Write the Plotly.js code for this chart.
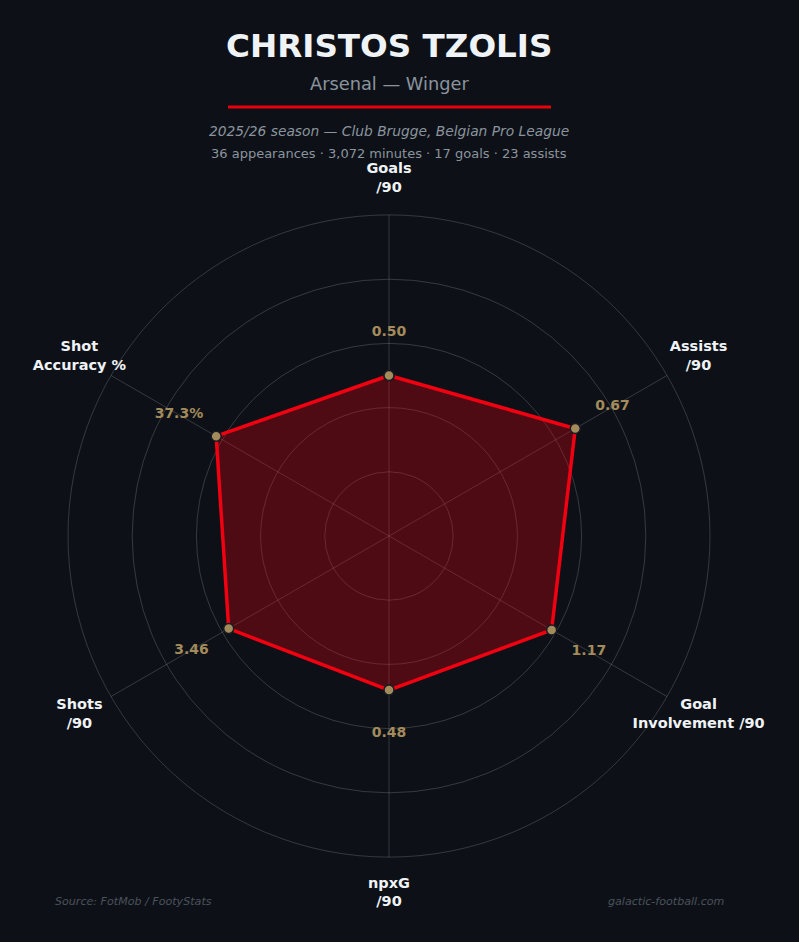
<!DOCTYPE html>
<html><head><meta charset="utf-8">
<script src="https://cdn.plot.ly/plotly-3.0.1.min.js"></script>
<style>html,body{margin:0;padding:0;background:#0d1117;}#chart{width:799px;height:942px;}</style>
</head><body><div id="chart"></div>
<script>
const categories = ["Goals<br>/90", "Assists<br>/90", "Goal<br>Involvement /90", "npxG<br>/90", "Shots<br>/90", "Shot<br>Accuracy %"];
const rawValues = [0.50, 0.67, 1.17, 0.48, 3.46, 37.3];
const valueLabels = ["0.50", "0.67", "1.17", "0.48", "3.46", "37.3%"];
const scaleMax = [1, 1, 2, 1, 6, 60];

const scaled = rawValues.map((v, i) => v / scaleMax[i] * 100);
const closedTheta = categories.concat([categories[0]]);
const closedR = scaled.concat([scaled[0]]);
const labelR = scaled.map(v => v + 13.4);
const catLabelR = categories.map(() => 111.4);

const BG = "#0d1117";
const GRID = "rgba(255,255,255,0.17)";
const dom = {x: [68/799, 710/799], y: [1 - 857/942, 1 - 215/942]};
const domOuter = {x: [20/799, 758/799], y: [1 - 905/942, 1 - 167/942]};

const traces = [
  {type: "scatterpolar", subplot: "polar", r: closedR, theta: closedTheta, mode: "lines",
   fill: "toself", fillcolor: "rgba(232,0,11,0.30)", line: {width: 0, color: "rgba(0,0,0,0)"},
   hoverinfo: "skip", showlegend: false},
  {type: "scatterpolar", subplot: "polar2", r: closedR, theta: closedTheta, mode: "lines+markers",
   line: {color: "#f00010", width: 3.5},
   marker: {size: 10, color: "#a38b5b", line: {color: "#161b22", width: 1.5}},
   showlegend: false, cliponaxis: false},
  {type: "scatterpolar", subplot: "polar2", r: labelR, theta: categories, mode: "text",
   text: valueLabels, textfont: {family: "DejaVu Sans", size: 14, color: "#a38b5b", weight: "bold"},
   textposition: "middle center", showlegend: false, cliponaxis: false},
  {type: "scatterpolar", subplot: "polar3", r: catLabelR, theta: categories, mode: "text",
   text: categories, textfont: {family: "DejaVu Sans", size: 14.5, color: "#f0f3f6", weight: "bold"},
   textposition: "middle center", showlegend: false, cliponaxis: false}
];

const angBase = {type: "category", categoryarray: categories, direction: "clockwise", rotation: 90};

const layout = {
  width: 799, height: 942,
  paper_bgcolor: BG, plot_bgcolor: BG,
  margin: {l: 0, r: 0, t: 0, b: 0},
  showlegend: false,
  font: {family: "DejaVu Sans", color: "#f0f3f6"},
  polar: {
    domain: dom, bgcolor: BG,
    radialaxis: {range: [0, 100], tickvals: [20, 40, 60, 80, 100], showticklabels: false, ticks: "",
      showline: false, gridcolor: GRID, gridwidth: 1, layer: "above traces"},
    angularaxis: Object.assign({}, angBase, {showgrid: true, gridcolor: GRID, gridwidth: 1,
      linecolor: GRID, linewidth: 1, ticks: "", showticklabels: false, layer: "above traces"})
  },
  polar2: {
    domain: dom, bgcolor: "rgba(0,0,0,0)",
    radialaxis: {range: [0, 100], visible: false},
    angularaxis: Object.assign({}, angBase, {visible: false, showgrid: false, showline: false})
  },
  polar3: {
    domain: domOuter, bgcolor: "rgba(0,0,0,0)",
    radialaxis: {range: [0, 115], visible: false},
    angularaxis: Object.assign({}, angBase, {visible: false, showgrid: false, showline: false})
  },
  annotations: [
    {text: "<b>CHRISTOS TZOLIS</b>", x: 0.487, y: 1 - 46/942, xref: "paper", yref: "paper", showarrow: false,
     font: {family: "DejaVu Sans", size: 32.6, color: "#f0f3f6"}, xanchor: "center", yanchor: "middle"},
    {text: "Arsenal — Winger", x: 0.487, y: 1 - 84/942, xref: "paper", yref: "paper", showarrow: false,
     font: {family: "DejaVu Sans", size: 17.8, color: "#8b949e"}, xanchor: "center", yanchor: "middle"},
    {text: "<i>2025/26 season — Club Brugge, Belgian Pro League</i>", x: 0.487, y: 1 - 131/942, xref: "paper", yref: "paper", showarrow: false,
     font: {family: "DejaVu Sans", size: 13.8, color: "#8b949e"}, xanchor: "center", yanchor: "middle"},
    {text: "36 appearances · 3,072 minutes · 17 goals · 23 assists", x: 0.487, y: 1 - 154/942, xref: "paper", yref: "paper", showarrow: false,
     font: {family: "DejaVu Sans", size: 13, color: "#8b949e"}, xanchor: "center", yanchor: "middle"},
    {text: "<i>Source: FotMob / FootyStats</i>", x: 53/799, y: 1 - 901/942, xref: "paper", yref: "paper", showarrow: false,
     font: {family: "DejaVu Sans", size: 11.1, color: "#4b525b"}, xanchor: "left", yanchor: "middle"},
    {text: "<i>galactic-football.com</i>", x: 727/799, y: 1 - 901/942, xref: "paper", yref: "paper", showarrow: false,
     font: {family: "DejaVu Sans", size: 11.1, color: "#4b525b"}, xanchor: "right", yanchor: "middle"}
  ],
  shapes: [
    {type: "line", xref: "paper", yref: "paper", x0: 228/799, x1: 551/799, y0: 1 - 107/942, y1: 1 - 107/942,
     line: {color: "#e8000b", width: 3}}
  ]
};

Plotly.newPlot("chart", traces, layout, {displayModeBar: false, staticPlot: true});
</script></body></html>
